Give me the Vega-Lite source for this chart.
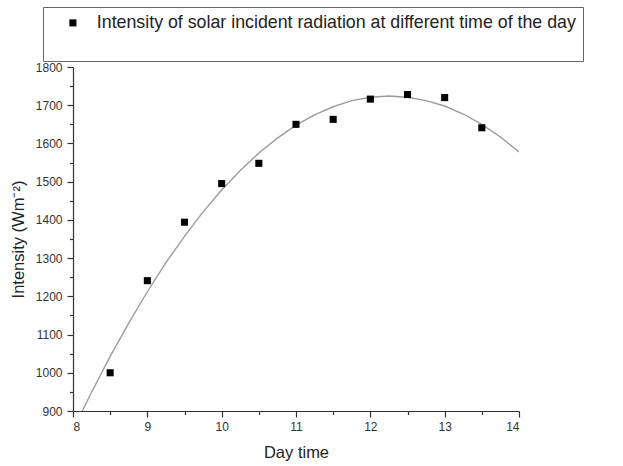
{
  "$schema": "https://vega.github.io/schema/vega-lite/v6.json",
  "width": 446,
  "height": 344,
  "autosize": {"type": "none"},
  "padding": {"left": 73, "top": 67, "right": 104, "bottom": 55},
  "background": "white",
  "config": {
    "view": {"stroke": null},
    "font": "Liberation Sans",
    "axis": {
      "grid": false,
      "labelFont": "Liberation Sans",
      "labelFontSize": 12,
      "labelColor": "#333333",
      "domainColor": "#333333",
      "domainWidth": 1.2,
      "tickColor": "#333333",
      "tickWidth": 1.2,
      "tickSize": 6,
      "labelPadding": 4,
      "titleFont": "Liberation Sans",
      "titleFontSize": 16.5,
      "titleFontWeight": "normal",
      "titleColor": "#222222"
    }
  },
  "datasets": {
    "obs": [
      {"time": 8.5, "intensity": 1000, "series": "Intensity of solar incident radiation at different time of the day"},
      {"time": 9.0, "intensity": 1241, "series": "Intensity of solar incident radiation at different time of the day"},
      {"time": 9.5, "intensity": 1394, "series": "Intensity of solar incident radiation at different time of the day"},
      {"time": 10.0, "intensity": 1495, "series": "Intensity of solar incident radiation at different time of the day"},
      {"time": 10.5, "intensity": 1548, "series": "Intensity of solar incident radiation at different time of the day"},
      {"time": 11.0, "intensity": 1650, "series": "Intensity of solar incident radiation at different time of the day"},
      {"time": 11.5, "intensity": 1663, "series": "Intensity of solar incident radiation at different time of the day"},
      {"time": 12.0, "intensity": 1716, "series": "Intensity of solar incident radiation at different time of the day"},
      {"time": 12.5, "intensity": 1728, "series": "Intensity of solar incident radiation at different time of the day"},
      {"time": 13.0, "intensity": 1720, "series": "Intensity of solar incident radiation at different time of the day"},
      {"time": 13.5, "intensity": 1641, "series": "Intensity of solar incident radiation at different time of the day"}
    ],
    "fit": [
      {"time": 8.125, "intensity": 900},
      {"time": 8.25, "intensity": 949},
      {"time": 8.5, "intensity": 1043},
      {"time": 8.75, "intensity": 1130},
      {"time": 9.0, "intensity": 1212},
      {"time": 9.25, "intensity": 1288},
      {"time": 9.5, "intensity": 1357},
      {"time": 9.75, "intensity": 1421},
      {"time": 10.0, "intensity": 1478},
      {"time": 10.25, "intensity": 1529},
      {"time": 10.5, "intensity": 1575},
      {"time": 10.75, "intensity": 1614},
      {"time": 11.0, "intensity": 1648},
      {"time": 11.25, "intensity": 1675},
      {"time": 11.5, "intensity": 1696},
      {"time": 11.75, "intensity": 1712},
      {"time": 12.0, "intensity": 1721},
      {"time": 12.25, "intensity": 1724},
      {"time": 12.5, "intensity": 1721},
      {"time": 12.75, "intensity": 1712},
      {"time": 13.0, "intensity": 1698},
      {"time": 13.25, "intensity": 1677},
      {"time": 13.5, "intensity": 1650},
      {"time": 13.75, "intensity": 1617},
      {"time": 14.0, "intensity": 1578}
    ]
  },
  "layer": [
    {
      "data": {"name": "fit"},
      "mark": {"type": "line", "color": "#9c9c9c", "strokeWidth": 1.4, "clip": true},
      "encoding": {
        "x": {
          "field": "time", "type": "quantitative",
          "scale": {"domain": [8, 14], "nice": false, "zero": false},
          "axis": {"orient": "bottom", "title": "Day time", "values": [8, 9, 10, 11, 12, 13, 14], "titlePadding": 12}
        },
        "y": {
          "field": "intensity", "type": "quantitative",
          "scale": {"domain": [900, 1800], "nice": false, "zero": false},
          "axis": {"orient": "left", "title": "Intensity (Wm⁻²)", "format": "d", "values": [900, 1000, 1100, 1200, 1300, 1400, 1500, 1600, 1700, 1800], "labelPadding": 5, "titlePadding": 9}
        }
      }
    },
    {
      "data": {"name": "obs"},
      "mark": {"type": "point", "filled": true, "shape": "square", "size": 50, "color": "black", "opacity": 1},
      "encoding": {
        "x": {
          "field": "time", "type": "quantitative",
          "scale": {"domain": [8, 14], "nice": false, "zero": false},
          "axis": {"orient": "bottom", "title": null, "labels": false, "domain": false, "tickSize": 3.5, "values": [8.5, 9.5, 10.5, 11.5, 12.5, 13.5]}
        },
        "y": {
          "field": "intensity", "type": "quantitative",
          "scale": {"domain": [900, 1800], "nice": false, "zero": false},
          "axis": {"orient": "left", "title": null, "labels": false, "domain": false, "tickSize": 3.5, "values": [950, 1050, 1150, 1250, 1350, 1450, 1550, 1650, 1750]}
        },
        "shape": {
          "field": "series", "type": "nominal",
          "scale": {"range": ["square"]},
          "legend": {
            "orient": "none",
            "legendX": -30,
            "legendY": -60,
            "strokeColor": "#666666",
            "padding": 7,
            "symbolOffset": 14,
            "labelOffset": 15,
            "labelFont": "Liberation Sans",
            "labelFontSize": 17.8,
            "labelColor": "#222222",
            "labelLimit": 1000,
            "labelExpr": "datum.label + '\u2003\u2003\u2003\u2003'",
            "symbolSize": 50,
            "symbolType": "square",
            "symbolFillColor": "black",
            "symbolStrokeColor": "black",
            "title": "\u2003",
            "titleOrient": "bottom",
            "titleFontSize": 14,
            "titlePadding": 8
          }
        }
      }
    }
  ],
  "resolve": {"axis": {"x": "independent", "y": "independent"}}
}
